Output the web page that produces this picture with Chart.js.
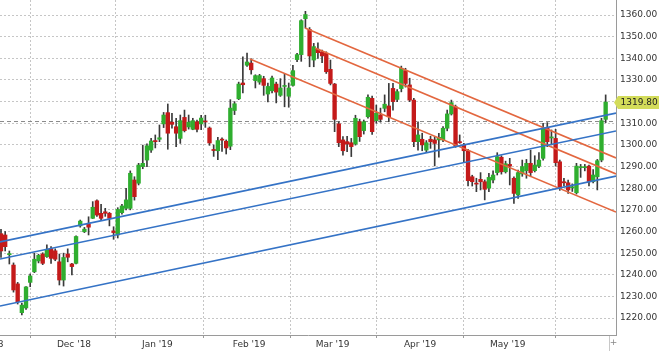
<!DOCTYPE html>
<html>
<head>
<meta charset="utf-8">
<script src="https://cdn.jsdelivr.net/npm/chart.js@4/dist/chart.umd.min.js"></script>
<style>
  html, body { margin: 0; padding: 0; background: #fff; }
  #wrap { width: 660px; height: 351px; }
</style>
</head>
<body>
<div id="wrap"><canvas id="c" width="660" height="351"></canvas></div>
<script>
// Daily OHLC, one entry per trading day (index 0 = early Nov 2018, last = 3 Jun 2019)
const opens = [
  1259, 1258.4, 1249.3, 1244.5, 1235.8, 1222.5, 1224.7, 1236.5, 1241.4, 1246.4,
  1249.6, 1248.4, 1252.2, 1251.1, 1246, 1237.6, 1249.6, 1245, 1245.3, 1262.6,
  1259.9, 1263.5, 1266.1, 1274.2, 1268.4, 1269.1, 1268.4, 1260.3, 1258.4, 1268.7,
  1270.7, 1270.7, 1283.8, 1282.3, 1290, 1293, 1297.6, 1302, 1302.6, 1309.7,
  1314.9, 1310.5, 1308.4, 1303, 1312.7, 1308.3, 1307.2, 1310.7, 1309.7, 1311,
  1307.8, 1297.9, 1297.3, 1302.6, 1301.7, 1299.4, 1315.9, 1321.3, 1328.6, 1336.8,
  1337.8, 1329.7, 1329, 1330.6, 1323.5, 1325, 1328.1, 1322.9, 1327, 1322.5,
  1327.5, 1339.4, 1341.7, 1358.3, 1353.3, 1339.2, 1344.2, 1343, 1342.3, 1334.9,
  1328.1, 1309.7, 1302.3, 1301.5, 1301, 1300.4, 1310.7, 1306.6, 1313, 1321.5,
  1311.2, 1313.8, 1316.9, 1318, 1326.1, 1321, 1326, 1334.3, 1327.7, 1320.7,
  1301.5, 1302.6, 1297.6, 1302.6, 1302.3, 1302.3, 1302.3, 1307.7, 1314.3, 1317.6,
  1301.5, 1300, 1297.3, 1285.3, 1282.2, 1284.1, 1283, 1280, 1283.8, 1287.2,
  1294.3, 1287.6, 1291, 1284.6, 1276.9, 1286.6, 1288.1, 1291.5, 1288.1, 1290.2,
  1293.8, 1307.7, 1303.2, 1303, 1292.2, 1283, 1282.5, 1280.2, 1277.9, 1289.5,
  1289.5, 1290.2, 1283, 1285.3, 1293, 1311.8
];
const highs = [
  1261, 1260, 1251, 1245.5, 1236.5, 1227, 1234.6, 1240.4, 1250, 1249.5,
  1250.2, 1253.8, 1253, 1252, 1249.6, 1250, 1252, 1245.3, 1258, 1265.3,
  1261.9, 1266.8, 1273.8, 1274.6, 1272.5, 1270.7, 1268.8, 1262.2, 1271, 1272.5,
  1280, 1288, 1285.3, 1291.5, 1299.9, 1300.5, 1303, 1304.6, 1309.2, 1315,
  1318.9, 1314.6, 1312.3, 1313.8, 1316.1, 1313.8, 1312.3, 1311.5, 1313.7, 1313.7,
  1308.3, 1300, 1303.5, 1303.3, 1302.3, 1320.9, 1320, 1329, 1340.7, 1342.4,
  1339.8, 1332.4, 1332.6, 1331.7, 1328.6, 1331.8, 1329, 1330.6, 1332.7, 1328.6,
  1336.8, 1342.3, 1357.8, 1361.7, 1354.2, 1346.9, 1347.2, 1343.8, 1343, 1339.2,
  1328.4, 1310.7, 1303.8, 1304, 1303, 1313.7, 1311.9, 1311.5, 1323.1, 1322.6,
  1318.4, 1317, 1323.1, 1328.4, 1328.4, 1325.5, 1336.4, 1335.4, 1330.8, 1321.5,
  1310.7, 1305.4, 1302, 1304, 1303.8, 1305.4, 1308.5, 1316.1, 1320.7, 1318.4,
  1304.6, 1300.7, 1298, 1286, 1284.6, 1287.2, 1283.8, 1286.9, 1288, 1296.4,
  1295, 1292.5, 1293.8, 1285.3, 1288.4, 1293, 1293.3, 1297.6, 1295, 1296.5,
  1310, 1310.3, 1306.9, 1307.2, 1293, 1284.6, 1283.8, 1282, 1291.5, 1291,
  1291, 1290.7, 1288.6, 1293.3, 1312.3, 1323.1
];
const lows = [
  1248, 1251, 1245, 1232, 1226.5, 1221.5, 1224, 1234.5, 1241, 1245.5,
  1244.7, 1248, 1245.3, 1246.5, 1235.3, 1234.8, 1246, 1240, 1245, 1262,
  1259.5, 1258.4, 1266, 1267, 1265, 1267, 1262.6, 1256.4, 1257, 1268,
  1270, 1270, 1274.5, 1281.5, 1289, 1290, 1296.5, 1298.6, 1301.5, 1308,
  1298, 1307.7, 1299.2, 1300.7, 1306, 1307.3, 1307, 1306, 1307, 1308.1,
  1299.8, 1294.7, 1293.2, 1297, 1295.8, 1297.8, 1314, 1320.9, 1324, 1336.3,
  1332.7, 1326.3, 1328, 1322.9, 1319.8, 1324, 1319.4, 1322.4, 1317.6, 1317.4,
  1327.1, 1338.5, 1338.6, 1354, 1336.1, 1336.1, 1340, 1338, 1333, 1327.7,
  1306.1, 1299.2, 1295.3, 1296.9, 1294.6, 1299.9, 1301.6, 1305, 1312.3, 1304.9,
  1310, 1310.5, 1315.3, 1310.7, 1316.1, 1320, 1324.5, 1326.7, 1320, 1299.2,
  1297.6, 1297.3, 1296.5, 1298.4, 1290.3, 1294.3, 1301.5, 1306.5, 1313.8, 1298.9,
  1300.7, 1292.2, 1281, 1281, 1278.4, 1279.2, 1274.6, 1278.4, 1282.5, 1286.1,
  1286.5, 1287, 1281.5, 1273, 1275.3, 1285.5, 1284.6, 1285.3, 1287.5, 1289.5,
  1293, 1299.2, 1300, 1290.2, 1279, 1281, 1277.6, 1278.5, 1277.3, 1285,
  1288, 1281, 1282.5, 1279.2, 1292.2, 1310.3
];
const closes = [
  1251, 1253, 1249.8, 1233, 1227.6, 1226, 1234.4, 1239.5, 1247.2, 1249,
  1245.3, 1251.8, 1247.6, 1247.2, 1237.6, 1248, 1248.1, 1243.8, 1257.7, 1264.8,
  1261.1, 1262, 1271.2, 1267.6, 1266.1, 1268.4, 1266.1, 1259.5, 1270.2, 1271.8,
  1274.6, 1286.9, 1276.1, 1290.7, 1291.5, 1299.6, 1301.8, 1301.5, 1303.3, 1313.8,
  1305.4, 1309.5, 1305.4, 1311.2, 1306.6, 1310.5, 1311.2, 1307.2, 1312.4, 1310.6,
  1300.9, 1297.4, 1302, 1302.2, 1298.6, 1317, 1319, 1328.1, 1327.8, 1338.3,
  1334.7, 1332, 1332, 1327.5, 1327, 1330.9, 1324.4, 1326.3, 1327.3, 1326.3,
  1334.3, 1341.7, 1357.4, 1360.2, 1341.1, 1345.4, 1342.6, 1341.1, 1333.8, 1328.4,
  1311.8, 1301, 1297.3, 1300.4, 1299.2, 1312.3, 1303.8, 1310.7, 1322, 1306.1,
  1314.6, 1311.8, 1318.8, 1313, 1320, 1324.6, 1335.4, 1328.4, 1320.7, 1301.5,
  1304.6, 1300, 1301, 1301.5, 1300.7, 1303.5, 1307.7, 1314.3, 1319.5, 1299.5,
  1301, 1297.3, 1283.5, 1283, 1281.9, 1283, 1279.5, 1285, 1286.1, 1294.6,
  1287.6, 1291.3, 1290.2, 1277.6, 1287.2, 1290, 1291.5, 1287.2, 1290.7, 1293,
  1307.2, 1301.5, 1303.7, 1291.8, 1280, 1282.5, 1279.2, 1280.6, 1290.2, 1289.8,
  1289.9, 1283, 1286.1, 1292.7, 1311.2, 1319.8
];

// Month labels and the index of each month's first trading day
const monthLabels = ["Nov '18", "Dec '18", "Jan '19", "Feb '19", "Mar '19", "Apr '19", "May '19", ""];
const monthFirstBar = [-3, 18, 38, 60, 80, 101, 122, 145];

// Price axis ticks
const priceTicks = [1220, 1230, 1240, 1250, 1260, 1270, 1280, 1290, 1300, 1310, 1320, 1330, 1340, 1350, 1360];

// Visible window: bar index range and price range
const xRange = [-0.24, 147.48];
const yRange = [1212.2, 1366.93];

// Rising channel (blue) and falling channel (orange): [startIndex, startPrice, endIndex, endPrice]
const risingChannel = [
  [-0.24, 1255.2, 147.48, 1314.7],
  [-0.24, 1247.3, 147.48, 1306.4],
  [-0.24, 1225.6, 147.48, 1285.6]
];
const fallingChannel = [
  [72.9, 1354.0, 147.48, 1294.0],
  [75.3, 1344.8, 147.48, 1286.6],
  [59.7, 1339.7, 147.48, 1269.0]
];

// Previous close reference level
const refLevel = 1310.8;

const FONT = { family: '"DejaVu Sans", Verdana, sans-serif', size: 9 };
const TEXT = '#333';
const GRID = '#c6c6c6';
const AXIS = '#9a9a9a';
const UP = '#2fae2f';
const DOWN = '#c41a1a';
const WICK = '#3a3a3a';
const BLUE = '#3573c6';
const ORANGE = '#e3673f';

const idx = closes.map((_, i) => i);
const isUp = idx.map(i => closes[i] >= opens[i]);

function segment(s, color) {
  return {
    type: 'line',
    data: [{ x: s[0], y: s[1] }, { x: s[2], y: s[3] }],
    borderColor: color,
    borderWidth: 1.6,
    pointRadius: 0,
    tension: 0,
    order: 0
  };
}

const datasets = [
  {
    label: 'body',
    data: idx.map(i => ({ x: i, y: [opens[i], closes[i]] })),
    backgroundColor: idx.map(i => isUp[i] ? UP : DOWN),
    barThickness: 3.7,
    minBarLength: 1,
    grouped: false,
    order: 2
  },
  {
    label: 'wick',
    data: idx.map(i => ({ x: i, y: [lows[i], highs[i]] })),
    backgroundColor: WICK,
    barThickness: 1,
    grouped: false,
    order: 3
  },
  {
    type: 'line',
    label: 'ref',
    data: [{ x: xRange[0], y: refLevel }, { x: xRange[1], y: refLevel }],
    borderColor: '#8a8a8a',
    borderWidth: 1,
    borderDash: [4, 3],
    pointRadius: 0,
    order: 4
  },
  ...risingChannel.map(s => segment(s, BLUE)),
  ...fallingChannel.map(s => segment(s, ORANGE))
];

// Last price tag on the price axis, plus the small corner control
const lastPriceTag = {
  id: 'lastPriceTag',
  afterDraw(chart) {
    const { ctx, scales: { y }, chartArea } = chart;
    const v = closes[closes.length - 1];
    const py = Math.round(y.getPixelForValue(v)) + 0.5;
    const x0 = chartArea.right + 2;
    ctx.save();
    ctx.fillStyle = '#d3dc5a';
    ctx.beginPath();
    ctx.moveTo(x0 - 4, py);
    ctx.lineTo(x0, py - 6.5);
    ctx.lineTo(659, py - 6.5);
    ctx.lineTo(659, py + 6.5);
    ctx.lineTo(x0, py + 6.5);
    ctx.closePath();
    ctx.fill();
    ctx.fillStyle = '#222';
    ctx.font = '9px "DejaVu Sans", Verdana, sans-serif';
    ctx.textBaseline = 'middle';
    ctx.textAlign = 'left';
    ctx.fillText(v.toFixed(2), x0 + 2.5, py + 0.5);

    // corner control below the axis
    ctx.strokeStyle = '#c8c8c8';
    ctx.lineWidth = 1;
    ctx.beginPath();
    ctx.moveTo(609.5, chartArea.bottom + 1);
    ctx.lineTo(609.5, 351);
    ctx.stroke();
    ctx.fillStyle = '#888';
    ctx.textAlign = 'center';
    ctx.fillText('+', 613.5, chartArea.bottom + 8);
    ctx.restore();
  }
};

new Chart(document.getElementById('c'), {
  type: 'bar',
  data: { datasets },
  plugins: [lastPriceTag],
  options: {
    responsive: false,
    animation: false,
    devicePixelRatio: 1,
    layout: { padding: 0 },
    plugins: { legend: { display: false }, tooltip: { enabled: false } },
    scales: {
      x: {
        type: 'linear',
        min: xRange[0],
        max: xRange[1],
        offset: false,
        afterBuildTicks: s => { s.ticks = monthFirstBar.map(v => ({ value: v - 0.5 })); },
        afterFit: s => { s.height = 16; s.paddingLeft = 0; s.paddingRight = 0; },
        ticks: {
          autoSkip: false,
          maxRotation: 0,
          minRotation: 0,
          padding: 1,
          font: FONT,
          color: TEXT,
          callback: (v, i) => monthLabels[i]
        },
        grid: { color: GRID, lineWidth: 1, tickLength: 3, tickColor: AXIS, tickBorderDash: [] },
        border: { color: AXIS, width: 1, dash: [2, 2] }
      },
      y: {
        position: 'right',
        min: yRange[0],
        max: yRange[1],
        afterBuildTicks: s => { s.ticks = priceTicks.map(v => ({ value: v })); },
        afterFit: s => { s.width = 44; s.paddingTop = 0; s.paddingBottom = 0; },
        ticks: {
          padding: 4,
          font: FONT,
          color: TEXT,
          callback: v => Number(v).toFixed(2)
        },
        grid: { color: GRID, lineWidth: 1, drawTicks: false },
        border: { color: AXIS, width: 1, dash: [2, 2] }
      }
    }
  }
});
</script>
</body>
</html>
